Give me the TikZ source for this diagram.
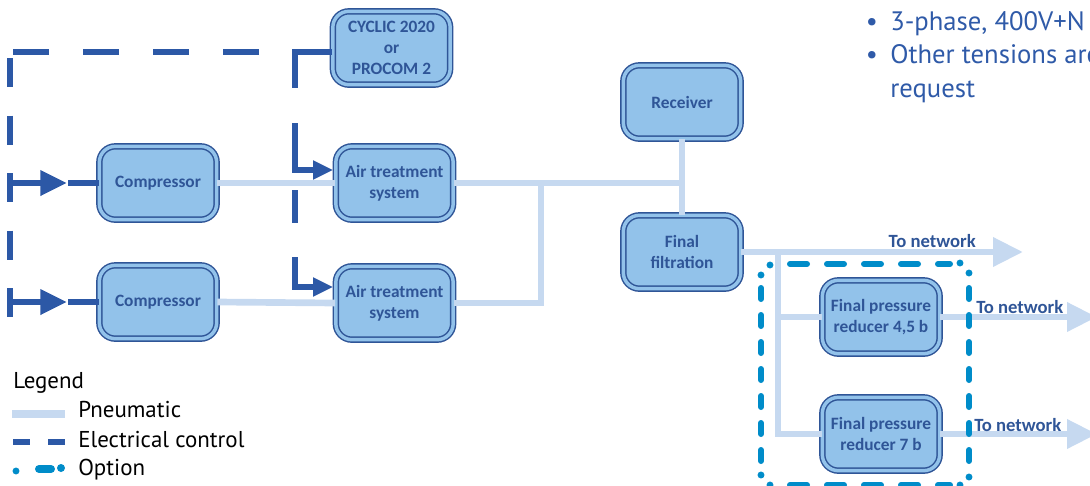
\documentclass[tikz,border=0pt]{standalone}
\usepackage{fontspec}
\setmainfont{Carlito}
\newfontfamily\legfont{PT Sans}
\usetikzlibrary{arrows.meta,calc}
\definecolor{bfill}{RGB}{146,194,234}
\definecolor{bdr}{RGB}{47,85,151}
\definecolor{txt}{RGB}{47,85,151}
\definecolor{ecol}{RGB}{44,88,166}
\definecolor{pcol}{RGB}{198,217,240}
\definecolor{ocol}{RGB}{0,140,201}
\definecolor{btxt}{RGB}{47,90,168}
\begin{document}
\begin{tikzpicture}[x=0.75pt,y=-0.75pt,
  box/.style={draw=bdr, fill=bfill, double=bfill, double distance=2.6pt, line width=1.1pt,
    rounded corners=12pt, minimum width=88pt, minimum height=55pt, inner sep=0pt,
    align=center, text=txt, font=\fontsize{13}{15.5}\selectfont\bfseries},
  elec/.style={draw=ecol, line width=5pt, line join=miter},
  earrow/.style={-{Triangle[length=15pt,width=13.5pt]}},
  carrow/.style={-{Triangle[length=20pt,width=18pt]}},
  pn/.style={draw=pcol, line width=5pt},
  parrow/.style={-{Triangle[length=22.5pt,width=21pt]}},
  opt/.style={draw=ocol, line width=4.5pt, line cap=round},
  lbl/.style={text=txt, font=\fontsize{14}{16}\selectfont\bfseries, inner sep=0pt},
  leg/.style={font=\legfont\fontsize{17.2}{19}\selectfont, inner sep=0pt, anchor=base west},
  bul/.style={text=btxt, font=\legfont\fontsize{20}{22}\selectfont, inner sep=0pt}
]
\useasboundingbox (0,0) rectangle (1090,486);

% ---------------- nodes
\node[box] (CYC) at (391.5,48) {CYCLIC 2020\\or\\PROCOM 2};
\node[box] (C1) at (158,183) {Compressor};
\node[box] (C2) at (158,302) {Compressor};
\node[box] (A1) at (394.5,183) {Air treatment\\system};
\node[box] (A2) at (394.5,303) {Air treatment\\system};
\node[box] (R) at (682,102) {Receiver};
\node[box] (F) at (682,252) {Final\\filtration};
\node[box] (P1) at (881,317) {Final pressure\\reducer 4,5 b};
\node[box] (P2) at (881,434) {Final pressure\\reducer 7 b};

% ---------------- coordinates
\coordinate (j1) at (541,183);
\coordinate (j2) at (778,252);
\coordinate (net1) at (1023,252);
\coordinate (net2) at (1097,317);
\coordinate (net3) at (1097,434);

% ---------------- pneumatic
\draw[pn] (C1.east) -- (A1.west);
\draw[pn] (C2.east) -- (A2.west);
\draw[pn] (A1.east) -| (R.south);
\draw[pn] (R.south) -- (F.north);
\draw[pn] (A2.east) -| (j1);
\draw[pn,parrow] (F.east) -- (net1);
\draw[pn] (j2) |- (P2.west);
\draw[pn] (P1.west -| j2) -- (P1.west);
\draw[pn,parrow] (P1.east) -- (net2);
\draw[pn,parrow] (P2.east) -- (net3);

\node[lbl, anchor=base east] (t1) at (976,247) {To network};
\node[lbl, anchor=base west] (t2) at (976,313) {To network};
\node[lbl, anchor=base west] (t3) at (974,431) {To network};

% ---------------- electrical
\coordinate (e1) at (295,88);
\coordinate (e2a) at (295,123);
\coordinate (e3a) at (295,190);
\coordinate (e3b) at (295,223);
\coordinate (e4a) at (295,257);
\coordinate (h1) at (259,52);
\coordinate (h2) at (13,52);
\coordinate (v1) at (10,58);
\coordinate (v2) at (10,317);
\coordinate (k1) at (10,183);
\coordinate (k1t) at (67,183);
\coordinate (k1b) at (68,183);
\coordinate (k2) at (10,302);
\coordinate (k2t) at (67,302);
\coordinate (k2b) at (68,302);

\draw[elec] ($(CYC.west)+(0,4)$) -| (e1);
\draw[elec, dash pattern=on 27pt off 25.5pt] (h1) -- (h2);
\draw[elec, dash pattern=on 21.75pt off 21.4pt] (v1) -- (v2);
\draw[elec,earrow] (e2a) |- ($(A1.west)+(-2,-13)$);
\draw[elec] (e3a) -- (e3b);
\draw[elec,earrow] (e4a) |- ($(A2.west)+(-2,-16)$);
\draw[elec,carrow] (k1) -- (k1t);
\draw[elec] (C1.west) -- (k1b);
\draw[elec,carrow] (k2) -- (k2t);
\draw[elec] (C2.west) -- (k2b);

% ---------------- option frame
\draw[opt, dash pattern=on 8.25pt off 12pt] (761,288) -- (761,462);
\draw[opt, dash pattern=on 8.25pt off 12pt] (969,288) -- (969,462);
\draw[opt, dash pattern=on 12.75pt off 15pt] (790,264) -- (950,264);
\draw[opt, dash pattern=on 12.75pt off 15pt] (790,485) -- (950,485);
\foreach \p in {(770,265),(761,275),(960,263),(969,273),(761,475),(770,485),(969,477),(960,485)}
  \fill[ocol] \p circle (2.6pt);

% ---------------- legend
\node[leg] (lg) at (13,388) {Legend};
\node[leg] (lp) at (78,417) {Pneumatic};
\node[leg] (le) at (78,447) {Electrical control};
\node[leg] (lo) at (78,475) {Option};
\coordinate (lp1) at (12,414); \coordinate (lp2) at (65,414);
\draw[pn, line width=6pt] (lp1) -- (lp2);
\coordinate (le1) at (13,442); \coordinate (le2) at (30,442);
\coordinate (le3) at (48,442); \coordinate (le4) at (65,442);
\draw[elec] (le1) -- (le2);
\draw[elec] (le3) -- (le4);
\fill[ocol] (16,471) circle (2.6pt);
\coordinate (lo1) at (39,469); \coordinate (lo2) at (51,469);
\draw[opt, line width=6pt] (lo1) -- (lo2);
\fill[ocol] (61,468) circle (3pt);

% ---------------- bullets
\node[bul, anchor=base] (d1) at (872,30) {•};
\node[bul, anchor=base] (d2) at (872,63) {•};
\node[bul, anchor=base west] (b1) at (890,30) {3-phase, 400V+N};
\node[bul, anchor=base west] (b2) at (890,63) {Other tensions are};
\node[bul, anchor=base west] (b3) at (890,97) {request};
\end{tikzpicture}
\end{document}
